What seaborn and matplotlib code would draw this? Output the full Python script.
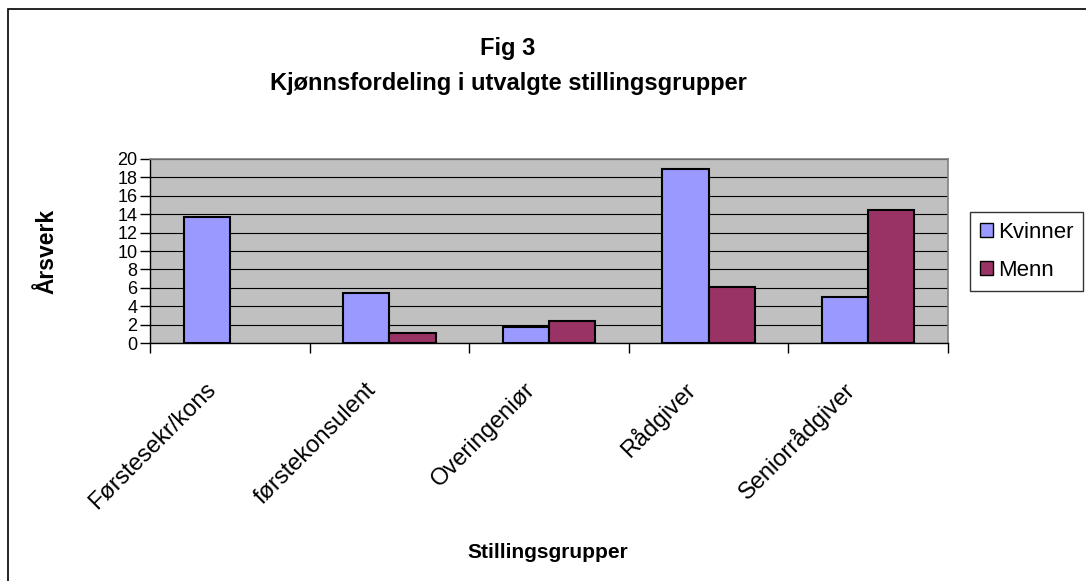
import matplotlib
matplotlib.use("Agg")
import matplotlib.pyplot as plt
import matplotlib.transforms as mtransforms
import seaborn as sns
import pandas as pd
import numpy as np
from matplotlib.patches import Rectangle

categories = ["Førstesekr/kons", "førstekonsulent", "Overingeniør", "Rådgiver", "Seniorrådgiver"]
kvinner = [13.7, 5.4, 1.7, 18.9, 5.0]
menn = [np.nan, 1.1, 2.4, 6.1, 14.5]
series_names = ["Kvinner", "Menn"]
yticks = list(range(0, 21, 2))

df = pd.DataFrame({
    "Stilling": categories * 2,
    "Årsverk": kvinner + menn,
    "Kjønn": [series_names[0]] * len(categories) + [series_names[1]] * len(categories),
})

sns.set_theme(style="white")
plt.rcParams["font.family"] = ["Liberation Sans", "DejaVu Sans"]
for k in ["text.color", "axes.labelcolor", "xtick.color", "ytick.color"]:
    plt.rcParams[k] = "black"

fig = plt.figure(figsize=(10.86, 5.81), dpi=100)
ax = fig.add_axes([150 / 1086, 1 - 343 / 581, 798 / 1086, 184 / 581])

palette = {"Kvinner": "#9999FF", "Menn": "#993366"}
sns.barplot(data=df, x="Stilling", y="Årsverk", hue="Kjønn", hue_order=series_names,
            order=categories, palette=palette,
            width=0.58, edgecolor="black", linewidth=1.5, saturation=1,
            ax=ax, zorder=3)

ax.set_facecolor("#C0C0C0")
ax.set_ylim(0, 20)
ax.set_xlim(-0.5, len(categories) - 0.5)
ax.set_yticks(yticks)
ax.set_yticklabels([str(t) for t in yticks], fontsize=13)
ax.yaxis.grid(True, color="black", linewidth=0.8, zorder=0)
ax.set_axisbelow(True)
for s in ["top", "right"]:
    ax.spines[s].set_color("#808080")
    ax.spines[s].set_linewidth(1.2)
for s in ["left", "bottom"]:
    ax.spines[s].set_color("black")
    ax.spines[s].set_linewidth(1.0)

ax.tick_params(axis="y", left=True, length=7, width=1, color="black", pad=2)
ax.set_xticks([i + 0.5 for i in range(-1, len(categories))], minor=True)
ax.tick_params(axis="x", which="minor", bottom=True, length=7, width=1, color="black")
ax.set_xticks(range(len(categories)))
ax.tick_params(axis="x", which="major", bottom=False, length=0, pad=31)
ax.set_xticklabels(categories, rotation=45, ha="right", va="center",
                   rotation_mode="anchor", fontsize=17)
shift = mtransforms.ScaledTranslation(-17 / 100, 0, fig.dpi_scale_trans)
for lbl in ax.get_xticklabels():
    lbl.set_transform(lbl.get_transform() + shift)

ax.set_ylabel("Årsverk", fontsize=16.5, fontweight="bold")
ax.set_xlabel("Stillingsgrupper", fontsize=15, fontweight="bold")
ax.xaxis.set_label_coords((548 - 150) / 798, -(543 - 343) / 184)
ax.yaxis.set_label_coords(-(150 - 58) / 798, 0.5)

fig.text(508 / 1086, 1 - 55 / 581, "Fig 3", ha="center", va="baseline", fontsize=17, fontweight="bold")
fig.text(508 / 1086, 1 - 90 / 581, "Kjønnsfordeling i utvalgte stillingsgrupper",
         ha="center", va="baseline", fontsize=17, fontweight="bold")

leg = ax.legend(loc="upper left", bbox_to_anchor=(970 / 1086, 1 - 212 / 581),
                bbox_transform=fig.transFigure, frameon=True, fancybox=False,
                fontsize=16, handlelength=0.6, handleheight=0.6, handletextpad=0.2,
                labelspacing=0.75, borderpad=0.45, borderaxespad=0)
leg.get_frame().set_edgecolor("black")
leg.get_frame().set_linewidth(1.0)
for h in leg.legend_handles:
    h.set_edgecolor("black")
    h.set_linewidth(1.0)

fig.patches.append(Rectangle((8 / 1086, -0.1), 1.2, 1 - 9 / 581 + 0.1, transform=fig.transFigure,
                             fill=False, edgecolor="black", linewidth=1.2))

fig.savefig("out.png", dpi=100)
